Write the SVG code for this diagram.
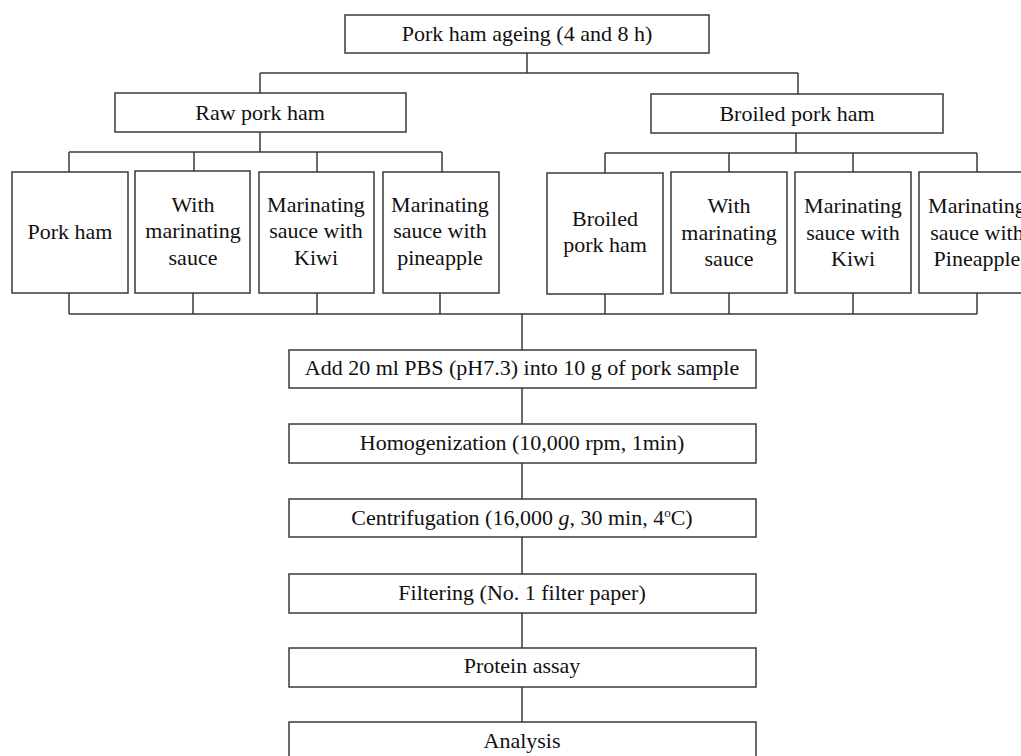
<svg xmlns="http://www.w3.org/2000/svg" width="1021" height="756" viewBox="0 0 1021 756">
<style>
.box{fill:#fff;stroke:#3a3a3a;stroke-width:1.5}
.t{font-family:"Liberation Serif","Times New Roman",serif;font-size:22px;fill:#111;text-anchor:middle}
.c{fill:none;stroke:#3a3a3a;stroke-width:1.5}
</style>
<rect width="1021" height="756" fill="#fff"/>
<g id="connectors">
<path class="c" d="M527 53V73M260 73H798M260 73V93M798 73V94"/>
<path class="c" d="M260 132V152M69 152H442M69 152V172M194 152V172M317 152V172M442 152V172"/>
<path class="c" d="M796 133V153M605 153H977M605 153V173M729 153V172M853 153V172M977 153V172"/>
<path class="c" d="M69 293V314M193 293V314M317 293V314M440 293V314M605 294V314M729 293V314M853 293V314M977 293V314M69 314H977M522 314V350"/>
<path class="c" d="M522 388V424M522 463V499M522 537V574M522 613V648M522 687V722"/>
</g>
<g id="n-ageing"><rect class="box" x="345" y="15" width="364" height="38"/><text class="t" x="527" y="41">Pork ham ageing (4 and 8 h)</text></g>
<g id="n-raw"><rect class="box" x="115" y="93" width="291" height="39"/><text class="t" x="260" y="120">Raw pork ham</text></g>
<g id="n-broiled"><rect class="box" x="651" y="94" width="292" height="39"/><text class="t" x="797" y="121">Broiled pork ham</text></g>
<g id="n-raw1"><rect class="box" x="12" y="172" width="116" height="121"/><text class="t" x="70" y="239">Pork ham</text></g>
<g id="n-raw2"><rect class="box" x="135" y="171" width="115" height="122"/><text class="t" x="193"><tspan x="193" y="212">With</tspan><tspan x="193" y="238">marinating</tspan><tspan x="193" y="265">sauce</tspan></text></g>
<g id="n-raw3"><rect class="box" x="259" y="172" width="115" height="121"/><text class="t" x="316"><tspan x="316" y="212">Marinating</tspan><tspan x="316" y="238">sauce with</tspan><tspan x="316" y="265">Kiwi</tspan></text></g>
<g id="n-raw4"><rect class="box" x="383" y="172" width="116" height="121"/><text class="t" x="440"><tspan x="440" y="212">Marinating</tspan><tspan x="440" y="238">sauce with</tspan><tspan x="440" y="265">pineapple</tspan></text></g>
<g id="n-br1"><rect class="box" x="547" y="173" width="116" height="121"/><text class="t" x="605"><tspan x="605" y="226">Broiled</tspan><tspan x="605" y="252">pork ham</tspan></text></g>
<g id="n-br2"><rect class="box" x="671" y="172" width="116" height="121"/><text class="t" x="729"><tspan x="729" y="213">With</tspan><tspan x="729" y="240">marinating</tspan><tspan x="729" y="266">sauce</tspan></text></g>
<g id="n-br3"><rect class="box" x="795" y="172" width="116" height="121"/><text class="t" x="853"><tspan x="853" y="213">Marinating</tspan><tspan x="853" y="240">sauce with</tspan><tspan x="853" y="266">Kiwi</tspan></text></g>
<g id="n-br4"><rect class="box" x="919" y="172" width="116" height="121"/><text class="t" x="977"><tspan x="977" y="213">Marinating</tspan><tspan x="977" y="240">sauce with</tspan><tspan x="977" y="266">Pineapple</tspan></text></g>
<g id="n-add"><rect class="box" x="289" y="350" width="467" height="38"/><text class="t" x="522" y="375">Add 20 ml PBS (pH7.3) into 10 g of pork sample</text></g>
<g id="n-homo"><rect class="box" x="289" y="424" width="467" height="39"/><text class="t" x="522" y="450">Homogenization (10,000 rpm, 1min)</text></g>
<g id="n-centri"><rect class="box" x="289" y="499" width="467" height="38"/><text class="t" x="522" y="525">Centrifugation (16,000 <tspan font-style="italic">g</tspan>, 30 min, 4<tspan font-size="13" dy="-8">o</tspan><tspan dy="8">C)</tspan></text></g>
<g id="n-filter"><rect class="box" x="289" y="574" width="467" height="39"/><text class="t" x="522" y="600">Filtering (No. 1 filter paper)</text></g>
<g id="n-protein"><rect class="box" x="289" y="648" width="467" height="39"/><text class="t" x="522" y="673">Protein assay</text></g>
<g id="n-analysis"><rect class="box" x="289" y="722" width="467" height="45"/><text class="t" x="522" y="748">Analysis</text></g>
</svg>
